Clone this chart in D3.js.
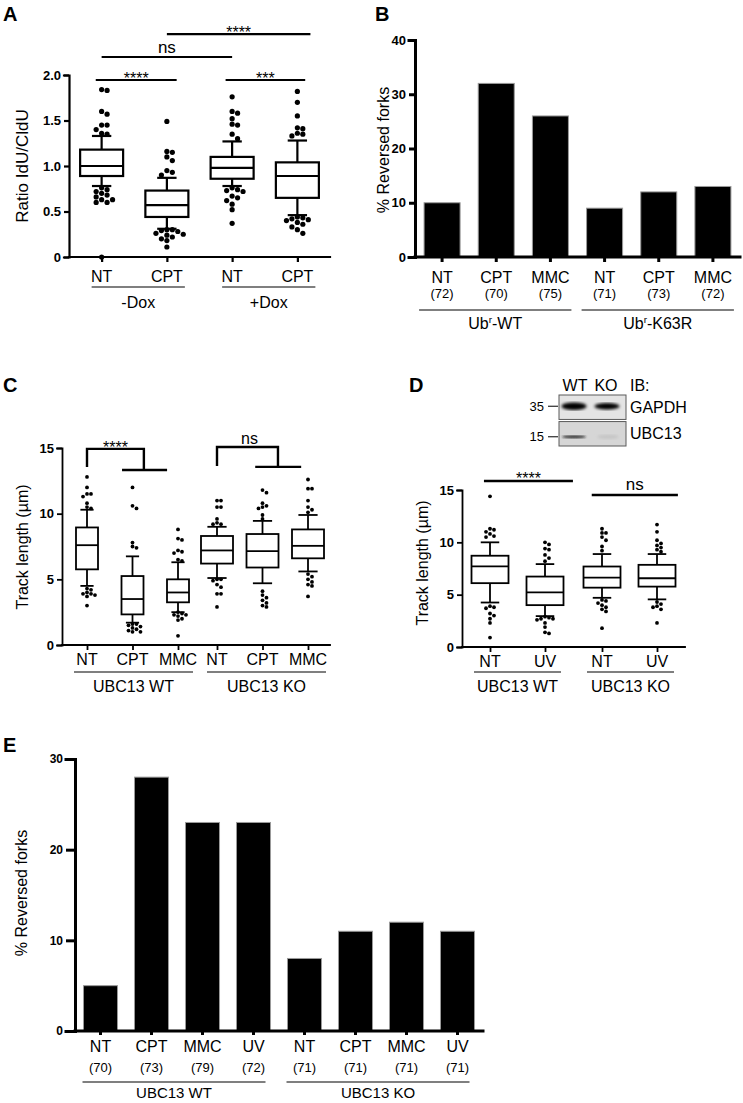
<!DOCTYPE html>
<html><head><meta charset="utf-8">
<script src="https://cdn.jsdelivr.net/npm/d3@7/dist/d3.min.js"></script>
<style>
body{margin:0;background:#fff;}
svg{display:block;}
text{font-family:"Liberation Sans", Arial, Helvetica, sans-serif;fill:#000;}
</style></head><body>
<svg id="fig" width="743" height="1103" xmlns="http://www.w3.org/2000/svg"></svg>
<script>
// ================= DATA =================
// Panel A
const aCategories = ["NT","CPT","NT","CPT"];
const aGroups = ["-Dox","+Dox"];
const aGroupMembers = [[0,1],[2,3]];
const aWhiskerLow = [0.78,0.31,0.78,0.46];
const aQ1 = [0.89,0.44,0.86,0.65];
const aMedian = [1.00,0.57,0.98,0.89];
const aQ3 = [1.18,0.73,1.10,1.04];
const aWhiskerHigh = [1.33,0.87,1.27,1.28];
const aOutliers = [
  [1.84,1.83,1.60,1.57,1.45,1.45,1.40,1.36,1.35,0.76,0.74,0.72,0.70,0.68,0.66,0.63,0.63,0.60,0.60,0.0],
  [1.49,1.16,1.15,1.10,1.06,0.95,0.93,0.90,0.30,0.30,0.29,0.28,0.26,0.25,0.24,0.22,0.20,0.18,0.11],
  [1.76,1.60,1.58,1.52,1.46,1.45,1.35,1.30,0.76,0.74,0.73,0.72,0.67,0.65,0.62,0.58,0.52,0.37],
  [1.82,1.70,1.55,1.42,1.41,1.36,1.35,1.33,0.44,0.43,0.42,0.41,0.40,0.38,0.36,0.33,0.30,0.26]
];
const aTicks = [0,0.5,1.0,1.5,2.0];
const aTickLabels = ["0","0.5","1.0","1.5","2.0"];
const aSigLabel = ["****","***","ns","****"];
const aSigFrom = [-0.09,1.9,0,1];
const aSigTo = [1.15,3.12,2,3.2];
const aSigLevel = [1.945,1.945,2.198,2.45];

// Panel B
const bCategories = ["NT","CPT","MMC","NT","CPT","MMC"];
const bCounts = ["(72)","(70)","(75)","(71)","(73)","(72)"];
const bValues = [10,32,26,9,12,13];
const bGroups = [["Ub","r","-WT"],["Ub","r","-K63R"]];
const bGroupMembers = [[0,2],[3,5]];
const bTicks = [0,10,20,30,40];

// Panel C
const cCategories = ["NT","CPT","MMC","NT","CPT","MMC"];
const cGroups = ["UBC13 WT","UBC13 KO"];
const cWhiskerLow = [4.5,1.7,2.5,5.1,4.7,5.6];
const cQ1 = [5.76,2.33,3.25,6.2,5.9,6.6];
const cMedian = [7.6,3.5,4.0,7.2,7.15,7.55];
const cQ3 = [8.95,5.25,5.0,8.3,8.45,8.8];
const cWhiskerHigh = [10.3,6.75,6.3,9.0,9.45,9.9];
const cOutliers = [
  [12.8,12.0,11.5,11.5,11.3,10.8,10.5,10.4,4.3,4.2,4.0,3.9,3.9,3.8,3.7,3.0],
  [12.0,10.6,10.4,7.8,7.5,7.4,1.6,1.6,1.5,1.4,1.3,1.2,1.1,1.0,1.0],
  [8.8,8.1,8.0,7.2,7.1,7.0,6.5,6.4,2.5,2.4,2.3,2.3,2.2,2.0,1.9,0.7],
  [11.0,11.0,10.5,10.5,9.6,9.3,9.2,9.2,5.0,5.0,4.9,4.6,4.4,3.9,3.9,2.9],
  [11.8,11.6,10.8,10.6,10.5,10.4,9.9,9.6,4.1,3.8,3.6,3.4,3.2,3.0,2.9],
  [12.6,11.9,11.9,11.0,10.5,10.3,10.1,5.4,5.2,5.0,4.8,4.6,4.5,3.7]
];
const cTicks = [0,5,10,15];
const cBracketLabel = ["****","ns"];
const cBracketLeft = [0,3];        // category index of left stem
const cBracketStemTop = [14.93,15.08];
const cBracketStemBottom = [13.56,13.63];
const cBracketRight = [1.25,4.34]; // right stem position (category units)
const cBracketLowLevel = [13.33,13.56];
const cBracketLowFrom = [0.77,3.84];
const cBracketLowTo = [1.76,4.85];

// Panel D
const dCategories = ["NT","UV","NT","UV"];
const dGroups = ["UBC13 WT","UBC13 KO"];
const dWhiskerLow = [4.25,2.95,4.7,4.55];
const dQ1 = [6.1,4.0,5.67,5.77];
const dMedian = [7.7,5.22,6.63,6.57];
const dQ3 = [8.72,6.73,7.69,7.85];
const dWhiskerHigh = [10.0,7.92,8.88,8.88];
const dOutliers = [
  [14.4,11.3,11.2,11.0,10.8,10.6,10.5,3.9,3.8,3.7,3.2,3.0,2.7,2.3,0.9],
  [10.0,9.8,9.4,9.3,8.8,8.5,8.2,2.9,2.8,2.7,2.7,2.6,2.3,1.9,1.4,1.3],
  [11.3,10.9,10.9,10.5,10.2,9.6,9.2,4.5,4.4,4.2,4.0,3.8,3.6,3.4,1.8],
  [11.7,11.0,10.2,9.9,9.7,9.5,9.3,9.1,4.3,4.1,3.9,3.8,3.6,2.3]
];
const dTicks = [0,5,10,15];
const dSigLabel = ["****","ns"];
const dSigFrom = [-0.11,1.82];
const dSigTo = [1.49,3.38];
const dSigLevel = [15.86,14.52];
const dBlotLanes = ["WT","KO"];
const dBlotRows = ["GAPDH","UBC13"];
const dBlotMarkers = ["35","15"];

// Panel E
const eCategories = ["NT","CPT","MMC","UV","NT","CPT","MMC","UV"];
const eCounts = ["(70)","(73)","(79)","(72)","(71)","(71)","(71)","(71)"];
const eValues = [5,28,23,23,8,11,12,11];
const eGroups = ["UBC13 WT","UBC13 KO"];
const eGroupMembers = [[0,3],[4,7]];
const eTicks = [0,10,20,30];

// ================= HELPERS =================
const svg = d3.select("#fig");
const FONT = '"Liberation Sans", Arial, Helvetica, sans-serif';

function fracX(centers, f) {
  const n = centers.length;
  const i = Math.floor(f);
  if (i < 0) return centers[0] + f * (centers[1] - centers[0]);
  if (i >= n - 1) return centers[n - 1] + (f - (n - 1)) * (centers[n - 1] - centers[n - 2]);
  return centers[i] + (f - i) * (centers[i + 1] - centers[i]);
}

function placeDots(vals, yScale, r) {
  const step = 2 * r * 1.05, minD = 2 * r * 0.92;
  const pts = [];
  vals.map(v => ({ v, y: yScale(v) })).sort((a, b) => a.y - b.y).forEach(d => {
    for (let k = 0; k < 30; k++) {
      const m = k === 0 ? 0 : (k % 2 ? Math.ceil(k / 2) : -k / 2);
      const off = m * step;
      if (pts.every(p => Math.hypot(p.dx - off, p.y - d.y) >= minD)) { pts.push({ dx: off, y: d.y }); break; }
    }
  });
  return pts;
}

function yAxis(g, x0, y, ticks, labels, sw, tickLen, fs) {
  const ax = g.append("g").attr("transform", `translate(${x0},0)`)
    .call(d3.axisLeft(y).tickValues(ticks).tickFormat((d, i) => labels ? labels[i] : d)
      .tickSizeOuter(0).tickSize(tickLen).tickPadding(3))
    .attr("font-family", FONT).attr("font-size", fs).attr("font-weight", "bold");
  ax.select(".domain").attr("stroke", "#000").attr("stroke-width", sw).attr("stroke-linecap", "square");
  ax.selectAll(".tick line").attr("stroke", "#000").attr("stroke-width", sw);
  ax.selectAll(".tick text").attr("fill", "#000");
  return ax;
}

function xAxis(g, scale, y0, x0, x1, sw, tickLen) {
  g.append("line").attr("x1", x0).attr("x2", x1).attr("y1", y0).attr("y2", y0)
    .attr("stroke", "#000").attr("stroke-width", sw).attr("stroke-linecap", "square");
  const ax = g.append("g").attr("transform", `translate(0,${y0})`)
    .call(d3.axisBottom(scale).tickSize(tickLen).tickSizeOuter(0).tickFormat(""));
  ax.select(".domain").remove();
  ax.selectAll(".tick line").attr("stroke", "#000").attr("stroke-width", sw);
}

function yLabel(g, cx, cy, txt, fs) {
  g.append("text").attr("transform", `translate(${cx},${cy}) rotate(-90)`)
    .attr("text-anchor", "middle").attr("dy", "0.35em").attr("font-size", fs).text(txt);
}

function catLabels(g, centers, labels, baseline, fs) {
  g.selectAll(null).data(labels).join("text")
    .attr("x", (d, i) => centers[i]).attr("y", baseline)
    .attr("text-anchor", "middle").attr("font-size", fs).text(d => d);
}

function groupLines(g, spans, y0, textBase, labels, fs) {
  spans.forEach((s, i) => {
    g.append("line").attr("x1", s[0]).attr("x2", s[1]).attr("y1", y0).attr("y2", y0)
      .attr("stroke", "#000").attr("stroke-width", 1.2);
    const t = g.append("text").attr("x", (s[0] + s[1]) / 2).attr("y", textBase)
      .attr("text-anchor", "middle").attr("font-size", fs);
    const lab = labels[i];
    if (Array.isArray(lab)) {
      t.append("tspan").text(lab[0]);
      t.append("tspan").attr("font-size", fs * 0.62).attr("dy", -fs * 0.38).text(lab[1]);
      t.append("tspan").attr("dy", fs * 0.38).text(lab[2]);
    } else t.text(lab);
  });
}

function drawBoxes(g, centers, y, lo, q1, med, q3, hi, outs, opt) {
  centers.forEach((cx, i) => {
    const w = Array.isArray(opt.boxW) ? opt.boxW[i] : opt.boxW;
    const cw = w * opt.cap;
    const st = { stroke: "#000", "stroke-width": opt.sw, fill: "none" };
    const L = (x1, y1, x2, y2) => {
      const l = g.append("line").attr("x1", x1).attr("y1", y1).attr("x2", x2).attr("y2", y2);
      Object.entries(st).forEach(([k, v]) => l.attr(k, v));
    };
    L(cx, y(hi[i]), cx, y(q3[i]));
    L(cx, y(q1[i]), cx, y(lo[i]));
    L(cx - cw / 2, y(hi[i]), cx + cw / 2, y(hi[i]));
    L(cx - cw / 2, y(lo[i]), cx + cw / 2, y(lo[i]));
    g.append("rect").attr("x", cx - w / 2).attr("y", y(q3[i])).attr("width", w)
      .attr("height", y(q1[i]) - y(q3[i])).attr("fill", "#fff")
      .attr("stroke", "#000").attr("stroke-width", opt.sw);
    L(cx - w / 2, y(med[i]), cx + w / 2, y(med[i]));
    const pts = placeDots(outs[i], y, opt.r);
    g.selectAll(null).data(pts).join("circle")
      .attr("cx", d => cx + d.dx).attr("cy", d => d.y).attr("r", opt.r).attr("fill", "#000");
  });
}

function sigLine(g, x1, x2, yy, label, fs, below, sw) {
  g.append("line").attr("x1", x1).attr("x2", x2).attr("y1", yy).attr("y2", yy)
    .attr("stroke", "#000").attr("stroke-width", sw);
  g.append("text").attr("x", (x1 + x2) / 2).attr("y", yy + below)
    .attr("text-anchor", "middle").attr("font-size", fs).text(label);
}

// Panel letters
[["A", 3, 21], ["B", 375, 21], ["C", 3, 392], ["D", 409, 392], ["E", 3, 752]].forEach(p => {
  svg.append("text").attr("x", p[1]).attr("y", p[2]).attr("font-size", 20)
    .attr("font-weight", "bold").text(p[0]);
});

// ================= PANEL A =================
{
  const g = svg.append("g");
  const x = d3.scalePoint().domain(d3.range(aCategories.length)).range([69, 330]).padding(0.5);
  const y = d3.scaleLinear().domain([0, 2]).range([257, 75]);
  const centers = aCategories.map((d, i) => x(i));
  drawBoxes(g, centers, y, aWhiskerLow, aQ1, aMedian, aQ3, aWhiskerHigh, aOutliers,
    { boxW: 43, cap: 0.45, sw: 2.2, r: 2.6 });
  yAxis(g, 69, y, aTicks, aTickLabels, 2.2, 5, 13);
  xAxis(g, x, 257, 69, 330, 2.2, 5);
  catLabels(g, centers, aCategories, 282, 16);
  groupLines(g, aGroupMembers.map(m => [centers[m[0]] - 10, centers[m[1]] + 18]), 287, 308, aGroups, 16);
  yLabel(g, 22, 166, "Ratio IdU/CldU", 17);
  aSigLabel.forEach((lab, i) => {
    const isNs = lab === "ns";
    sigLine(g, fracX(centers, aSigFrom[i]), fracX(centers, aSigTo[i]), y(aSigLevel[i]), lab,
      isNs ? 17 : 16, isNs ? -4 : 4, 2.2);
  });
}

// ================= PANEL B =================
{
  const g = svg.append("g");
  const x = d3.scaleBand().domain(d3.range(bCategories.length)).range([415, 740])
    .paddingInner(0.335).paddingOuter(0.1675);
  const y = d3.scaleLinear().domain([0, 40]).range([257, 40]);
  const centers = bCategories.map((d, i) => x(i) + x.bandwidth() / 2);
  g.selectAll(null).data(bValues).join("rect")
    .attr("x", (d, i) => x(i)).attr("y", d => y(d)).attr("width", x.bandwidth())
    .attr("height", d => y(0) - y(d)).attr("fill", "#000").attr("stroke", "#9a9a9a").attr("stroke-width", 1);
  yAxis(g, 415, y, bTicks, null, 3, 6, 13);
  xAxis(g, x, 257, 415, 740, 3, 5);
  catLabels(g, centers, bCategories, 283, 16);
  catLabels(g, centers, bCounts, 298, 13);
  groupLines(g, bGroupMembers.map(m => [centers[m[0]] - 23, centers[m[1]] + 21]), 310, 329, bGroups, 16);
  yLabel(g, 383, 150, "% Reversed forks", 16);
}

// ================= PANEL C =================
{
  const g = svg.append("g");
  const outer = d3.scaleBand().domain([0, 1]).range([64, 324]);
  const inner = d3.scalePoint().domain([0, 1, 2]).range([23, 114]);
  const centers = cCategories.map((d, i) => outer(Math.floor(i / 3)) + inner(i % 3));
  const xo = d3.scaleOrdinal().domain(d3.range(6)).range(centers);
  const y = d3.scaleLinear().domain([0, 15]).range([645, 448]);
  drawBoxes(g, centers, y, cWhiskerLow, cQ1, cMedian, cQ3, cWhiskerHigh, cOutliers,
    { boxW: [22, 22, 22, 32, 32, 32], cap: 0.6, sw: 1.8, r: 1.9 });
  yAxis(g, 62, y, cTicks, null, 1.8, 5, 13);
  xAxis(g, xo, 645, 62, 330, 1.8, 5);
  catLabels(g, centers, cCategories, 665, 16);
  groupLines(g, [[centers[0] - 13, centers[2] + 15], [centers[3] - 10, centers[5] + 18]], 672, 692, cGroups, 16);
  yLabel(g, 22, 547, "Track length (µm)", 16);
  cBracketLabel.forEach((lab, i) => {
    const xl = fracX(centers, cBracketLeft[i]);
    const xr = fracX(centers, cBracketRight[i]);
    const yt = y(cBracketStemTop[i]);
    const path = d3.path();
    path.moveTo(xl, y(cBracketStemBottom[i]));
    path.lineTo(xl, yt);
    path.lineTo(xr, yt);
    path.lineTo(xr, y(cBracketLowLevel[i]));
    path.moveTo(fracX(centers, cBracketLowFrom[i]), y(cBracketLowLevel[i]));
    path.lineTo(fracX(centers, cBracketLowTo[i]), y(cBracketLowLevel[i]));
    g.append("path").attr("d", path.toString()).attr("fill", "none")
      .attr("stroke", "#000").attr("stroke-width", 2.4);
    const isNs = lab === "ns";
    g.append("text").attr("x", (xl + xr) / 2 + (isNs ? 2 : 0)).attr("y", yt + (isNs ? -3 : 4))
      .attr("text-anchor", "middle").attr("font-size", 16).text(lab);
  });
}

// ================= PANEL D =================
{
  const g = svg.append("g");
  const outer = d3.scaleBand().domain([0, 1]).range([462, 686]);
  const inner = d3.scalePoint().domain([0, 1]).range([28, 83]);
  const centers = dCategories.map((d, i) => outer(Math.floor(i / 2)) + inner(i % 2));
  const xo = d3.scaleOrdinal().domain(d3.range(4)).range(centers);
  const y = d3.scaleLinear().domain([0, 15]).range([647, 490]);
  drawBoxes(g, centers, y, dWhiskerLow, dQ1, dMedian, dQ3, dWhiskerHigh, dOutliers,
    { boxW: 37, cap: 0.5, sw: 1.8, r: 1.9 });
  yAxis(g, 462, y, dTicks, null, 1.8, 5, 13);
  xAxis(g, xo, 647, 462, 685, 1.8, 5);
  catLabels(g, centers, dCategories, 667, 16);
  groupLines(g, [[centers[0] - 16, centers[1] + 16], [centers[2] - 15, centers[3] + 17]], 672, 692, dGroups, 16);
  yLabel(g, 422, 563, "Track length (µm)", 16);
  dSigLabel.forEach((lab, i) => {
    const isNs = lab === "ns";
    sigLine(g, fracX(centers, dSigFrom[i]), fracX(centers, dSigTo[i]), y(dSigLevel[i]), lab,
      isNs ? 17 : 16, isNs ? -5 : 3, 2.4);
  });

  // Western blot inset
  const defs = svg.append("defs");
  defs.append("filter").attr("id", "blur2").append("feGaussianBlur").attr("stdDeviation", 1.4);
  defs.append("filter").attr("id", "blur1").append("feGaussianBlur").attr("stdDeviation", 0.8);
  const laneX = d3.scalePoint().domain(dBlotLanes).range([575, 606]);
  const rowY = d3.scaleBand().domain(dBlotRows).range([395, 446]).paddingInner(0.08);
  const bx = 559, bw = 67;
  laneX.domain().forEach(l => {
    svg.append("text").attr("x", laneX(l)).attr("y", 391).attr("text-anchor", "middle")
      .attr("font-size", 16).text(l);
  });
  svg.append("text").attr("x", 630).attr("y", 391).attr("font-size", 16).text("IB:");
  dBlotRows.forEach((r, i) => {
    const ry = rowY(r), rh = rowY.bandwidth();
    svg.append("rect").attr("x", bx).attr("y", ry).attr("width", bw).attr("height", rh)
      .attr("fill", i === 0 ? "#e4e4e4" : "#d6d6d6").attr("stroke", "#5a5a5a").attr("stroke-width", 1);
    svg.append("text").attr("x", 630).attr("y", ry + rh / 2).attr("dy", "0.35em")
      .attr("font-size", 16).text(r);
    svg.append("text").attr("x", 544).attr("y", ry + rh / 2 + (i === 0 ? -1 : 3)).attr("dy", "0.35em")
      .attr("text-anchor", "end").attr("font-size", 13).text(dBlotMarkers[i]);
    svg.append("line").attr("x1", 548).attr("x2", 558)
      .attr("y1", ry + rh / 2 + (i === 0 ? -1 : 3)).attr("y2", ry + rh / 2 + (i === 0 ? -1 : 3))
      .attr("stroke", "#000").attr("stroke-width", 1);
  });
  const gy = rowY("GAPDH") + rowY.bandwidth() / 2 - 1;
  svg.append("ellipse").attr("cx", laneX("WT") - 1).attr("cy", gy).attr("rx", 12.5).attr("ry", 3.8)
    .attr("fill", "#000").attr("filter", "url(#blur2)");
  svg.append("ellipse").attr("cx", laneX("KO") + 1).attr("cy", gy).attr("rx", 12.5).attr("ry", 3.3)
    .attr("fill", "#050505").attr("filter", "url(#blur2)");
  const uy = rowY("UBC13") + rowY.bandwidth() / 2 + 3;
  svg.append("ellipse").attr("cx", laneX("WT") - 1).attr("cy", uy).attr("rx", 12).attr("ry", 1.4)
    .attr("fill", "#222").attr("filter", "url(#blur1)");
  svg.append("ellipse").attr("cx", laneX("KO") + 2).attr("cy", uy).attr("rx", 11).attr("ry", 2)
    .attr("fill", "#c4c4c4").attr("filter", "url(#blur2)");
}

// ================= PANEL E =================
{
  const g = svg.append("g");
  const x = d3.scaleBand().domain(d3.range(eCategories.length)).range([75, 483])
    .paddingInner(0.333).paddingOuter(0.1665);
  const y = d3.scaleLinear().domain([0, 30]).range([1031, 759]);
  const centers = eCategories.map((d, i) => x(i) + x.bandwidth() / 2);
  g.selectAll(null).data(eValues).join("rect")
    .attr("x", (d, i) => x(i)).attr("y", d => y(d)).attr("width", x.bandwidth())
    .attr("height", d => y(0) - y(d)).attr("fill", "#000").attr("stroke", "#9a9a9a").attr("stroke-width", 1);
  yAxis(g, 75, y, eTicks, null, 3, 9, 12);
  xAxis(g, x, 1031, 75, 483, 3, 4);
  catLabels(g, centers, eCategories, 1052, 16);
  catLabels(g, centers, eCounts, 1072, 13);
  groupLines(g, eGroupMembers.map(m => [centers[m[0]] - 18, centers[m[1]] + 12]), 1082, 1098, eGroups, 15);
  yLabel(g, 21, 893, "% Reversed forks", 16);
}
</script>
</body></html>
